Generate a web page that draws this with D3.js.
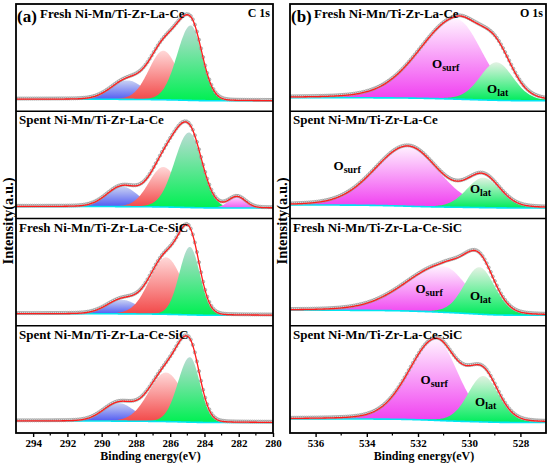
<!DOCTYPE html>
<html lang="en">

<head>
    <meta charset="UTF-8">
    <meta name="viewport" content="width=device-width, initial-scale=1.0">
    <title>XPS C 1s / O 1s</title>
    <script src="https://d3js.org/d3.v7.min.js"></script>

    <style>
        body {
            margin: 0;
            background: #fff;
        }

        svg {
            display: block;
            font-family: "Liberation Serif", "Times New Roman", serif;
            font-weight: bold;
        }
    </style>

</head>

<body>
    <svg id="chart" width="550" height="466"></svg>

    <script>
        // sample names, one row each, top to bottom
        var sampleNames = ["Fresh Ni-Mn/Ti-Zr-La-Ce", "Spent Ni-Mn/Ti-Zr-La-Ce",
            "Fresh Ni-Mn/Ti-Zr-La-Ce-SiC", "Spent Ni-Mn/Ti-Zr-La-Ce-SiC"];

        // C 1s fitted components: centre (eV), height (a.u.), widths on the high / low BE side (eV)
        var c1sColours = ["blue", "red", "green", "magenta"];
        var c1sCentres = [[288.5, 286.4, 284.8], [288.8, 286.4, 284.9, 282.1],
            [288.8, 286.25, 284.85], [289.0, 286.25, 284.85]];
        var c1sHeights = [[19, 49, 75], [20, 40, 75, 11], [14, 57, 68], [18, 49, 65]];
        var c1sWidthsLeft = [[0.95, 0.85, 0.8], [0.9, 0.85, 0.85, 0.5], [0.9, 0.95, 0.62], [0.9, 1.0, 0.7]];
        var c1sWidthsRight = [[0.95, 0.85, 0.66], [0.9, 0.85, 0.75, 0.5], [0.9, 0.95, 0.58], [0.9, 1.0, 0.58]];
        var c1sBackground = [[1.5, 0], [1.5, 0], [1.5, 0], [1.5, 0]]; // high BE side, low BE side

        // O 1s fitted components: O surf, O lat
        var o1sColours = ["magenta", "green"];
        var o1sCentres = [[530.5, 528.93], [532.4, 529.45], [531.0, 529.6], [531.3, 529.45]];
        var o1sHeights = [[80, 38], [60, 30], [46, 47], [81, 46]];
        var o1sWidthsLeft = [[1.45, 0.65], [1.3, 0.65], [1.5, 0.6], [1.05, 0.6]];
        var o1sWidthsRight = [[1.0, 0.65], [1.2, 0.65], [0.9, 0.6], [0.85, 0.6]];
        var o1sBackground = [[3, 0], [3, 0], [5, 0], [3.5, 0]];

        var c1sTicks = [294, 292, 290, 288, 286, 284, 282, 280];
        var o1sTicks = [536, 534, 532, 530, 528];

        // where the O surf / O lat labels sit (eV, a.u.)
        var oSurfLabelAt = [[531.45, 32.7], [535.3, 38], [532.1, 22], [531.9, 38.5]];
        var oLatLabelAt = [[529.3, 7.7], [529.97, 15], [529.97, 15], [529.77, 16.5]];

        var svg = d3.select('#chart');
        var plotTop = 4, plotBottom = 433;
        var rowH = (plotBottom - plotTop) / 4;

        // gradients: light at the peak top, saturated at the baseline
        var gradients = {
            "c-blue": ["#c9d2f3", "#4e57f2"],
            "c-red": ["#ffd8d8", "#f24646"],
            "c-green": ["#b9dcd3", "#00f052"],
            "c-magenta": ["#ffd4ff", "#f058f0"],
            "o-magenta": ["#fff2ff", "#f03cf0"],
            "o-green": ["#e3f2e3", "#00ec5c"]
        };
        var defs = svg.append('defs');
        Object.keys(gradients).forEach(function (k) {
            var lg = defs.append('linearGradient').attr('id', k)
                .attr('x1', 0).attr('y1', 0).attr('x2', 0).attr('y2', 1);
            lg.append('stop').attr('offset', 0).attr('stop-color', gradients[k][0]);
            lg.append('stop').attr('offset', 1).attr('stop-color', gradients[k][1]);
        });

        // pseudo-Voigt with separate widths on each side
        function peak(e, c, h, wl, wr, eta) {
            var w = e > c ? wl : wr;
            var d = (e - c) / w;
            var g = Math.exp(-0.5 * d * d);
            var l = 1 / (1 + d * d / 1.386);
            return h * ((1 - eta) * g + eta * l);
        }

        function drawFigure(opt) {
            var x = d3.scaleLinear().domain(opt.domain).range([opt.x0, opt.x1]);
            var g = svg.append('g');

            g.append('clipPath').attr('id', 'clip-' + opt.key)
                .append('rect').attr('x', opt.x0).attr('y', plotTop)
                .attr('width', opt.x1 - opt.x0).attr('height', plotBottom - plotTop);

            for (var r = 0; r < 4; r++) {
                var rTop = plotTop + r * rowH;
                var y = d3.scaleLinear().domain([-10.5, rowH - 10.5]).range([rTop + rowH, rTop]);

                var centres = opt.centres[r], heights = opt.heights[r];
                var wl = opt.widthsLeft[r], wr = opt.widthsRight[r];
                var energies = d3.range(opt.domain[1], opt.domain[0] + 0.001, 0.04);

                var comps = energies.map(function (e) {
                    return centres.map(function (c, i) {
                        return peak(e, c, heights[i], wl[i], wr[i], opt.eta);
                    });
                });
                var sums = comps.map(function (v) { return d3.sum(v); });

                // Shirley-like step background, rising toward high BE
                var total = d3.sum(sums), run = 0;
                var bgLow = opt.background[r][1], bgHigh = opt.background[r][0];
                var bg = sums.map(function (s) {
                    run += s;
                    return bgLow + (bgHigh - bgLow) * run / total;
                });

                var pts = energies.map(function (e, i) {
                    return { e: e, bg: bg[i], comp: comps[i], sum: sums[i] };
                });

                var layer = g.append('g').attr('clip-path', 'url(#clip-' + opt.key + ')');

                // filled components, later ones on top
                centres.forEach(function (c, k) {
                    var area = d3.area()
                        .x(function (d) { return x(d.e); })
                        .y0(function (d) { return y(d.bg); })
                        .y1(function (d) { return y(d.bg + d.comp[k]); });
                    var seg = pts.filter(function (d) { return d.comp[k] > 0.15; });
                    layer.append('path').datum(seg)
                        .attr('d', area)
                        .attr('fill', 'url(#' + opt.prefix + '-' + opt.colours[k] + ')');
                });

                // background line
                layer.append('path').datum(pts)
                    .attr('d', d3.line().x(function (d) { return x(d.e); }).y(function (d) { return y(d.bg); }))
                    .attr('fill', 'none').attr('stroke', '#00e6f2').attr('stroke-width', 1.6);

                // measured points
                layer.selectAll(null).data(pts.filter(function (d, i) { return i % opt.markEvery === 0; }))
                    .join('circle')
                    .attr('cx', function (d) { return x(d.e); })
                    .attr('cy', function (d) { return y(d.bg + d.sum) - 0.6; })
                    .attr('r', 1.6)
                    .attr('fill', '#d6d6d6').attr('stroke', '#8a8a8a').attr('stroke-width', 0.6);

                // envelope
                layer.append('path').datum(pts)
                    .attr('d', d3.line().x(function (d) { return x(d.e); }).y(function (d) { return y(d.bg + d.sum); }))
                    .attr('fill', 'none').attr('stroke', '#ff1c1c').attr('stroke-width', 1.3);

                // sample name
                g.append('text')
                    .attr('x', r === 0 ? opt.x0 + 24 : opt.x0 + 3)
                    .attr('y', rTop + (r === 0 ? 13.5 : 13))
                    .style('font-size', '13px')
                    .text(sampleNames[r]);

                // O surf / O lat labels
                if (opt.key === 'o1s') {
                    [[oSurfLabelAt[r], 'surf'], [oLatLabelAt[r], 'lat']].forEach(function (lab) {
                        var t = g.append('text')
                            .attr('x', x(lab[0][0])).attr('y', y(lab[0][1]))
                            .style('font-size', '13px');
                        t.append('tspan').text('O');
                        t.append('tspan').attr('dy', 3).style('font-size', '10px').text(lab[1]);
                    });
                }

                if (r > 0) {
                    g.append('line').attr('x1', opt.x0).attr('x2', opt.x1)
                        .attr('y1', rTop).attr('y2', rTop)
                        .attr('stroke', '#000').attr('stroke-width', 1.6);
                }
            }

            // frame
            g.append('rect').attr('x', opt.x0).attr('y', plotTop)
                .attr('width', opt.x1 - opt.x0).attr('height', plotBottom - plotTop)
                .attr('fill', 'none').attr('stroke', '#000').attr('stroke-width', 1.8);

            // axis with major labelled ticks and minor ticks
            var axis = g.append('g').attr('transform', 'translate(0,' + plotBottom + ')')
                .call(d3.axisBottom(x).tickValues(opt.ticks).tickSize(4).tickPadding(2).tickFormat(d3.format('d')));
            axis.select('.domain').remove();
            axis.selectAll('line').attr('stroke-width', 1.4);
            axis.selectAll('text').style('font-size', '11px').style('font-family', '"Liberation Serif", serif')
                .style('font-weight', 'bold').attr('fill', '#000');

            var minor = d3.range(Math.ceil(opt.domain[1]), opt.domain[0] + 0.001, 1)
                .filter(function (v) { return opt.ticks.indexOf(v) < 0 && v > opt.domain[1] && v < opt.domain[0]; });
            g.selectAll(null).data(minor).join('line')
                .attr('x1', function (d) { return x(d); }).attr('x2', function (d) { return x(d); })
                .attr('y1', plotBottom).attr('y2', plotBottom + 2.5)
                .attr('stroke', '#000').attr('stroke-width', 1.2);

            g.append('text').attr('x', (opt.x0 + opt.x1) / 2 + 6).attr('y', 459.5)
                .attr('text-anchor', 'middle').style('font-size', '12px')
                .text('Binding energy(eV)');

            g.append('text').attr('transform', 'translate(' + opt.yTitleX + ',' + 221 + ') rotate(-90)')
                .attr('text-anchor', 'middle').style('font-size', '14.5px')
                .text('Intensity(a.u.)');

            g.append('text').attr('x', opt.x0 + 1).attr('y', 22).style('font-size', '17px').text(opt.letter);
            g.append('text').attr('x', opt.x1 - 3).attr('y', 17).attr('text-anchor', 'end')
                .style('font-size', '12px').text(opt.core);
        }

        drawFigure({
            key: 'c1s', prefix: 'c', letter: '(a)', core: 'C 1s',
            domain: [295, 280], x0: 16, x1: 273, yTitleX: 13,
            ticks: c1sTicks, colours: c1sColours,
            centres: c1sCentres, heights: c1sHeights,
            widthsLeft: c1sWidthsLeft, widthsRight: c1sWidthsRight,
            background: c1sBackground, eta: 0.05, markEvery: 3
        });

        drawFigure({
            key: 'o1s', prefix: 'o', letter: '(b)', core: 'O 1s',
            domain: [537, 527], x0: 290, x1: 546, yTitleX: 287,
            ticks: o1sTicks, colours: o1sColours,
            centres: o1sCentres, heights: o1sHeights,
            widthsLeft: o1sWidthsLeft, widthsRight: o1sWidthsRight,
            background: o1sBackground, eta: 0.15, markEvery: 2
        });
    </script>

</body>

</html>
